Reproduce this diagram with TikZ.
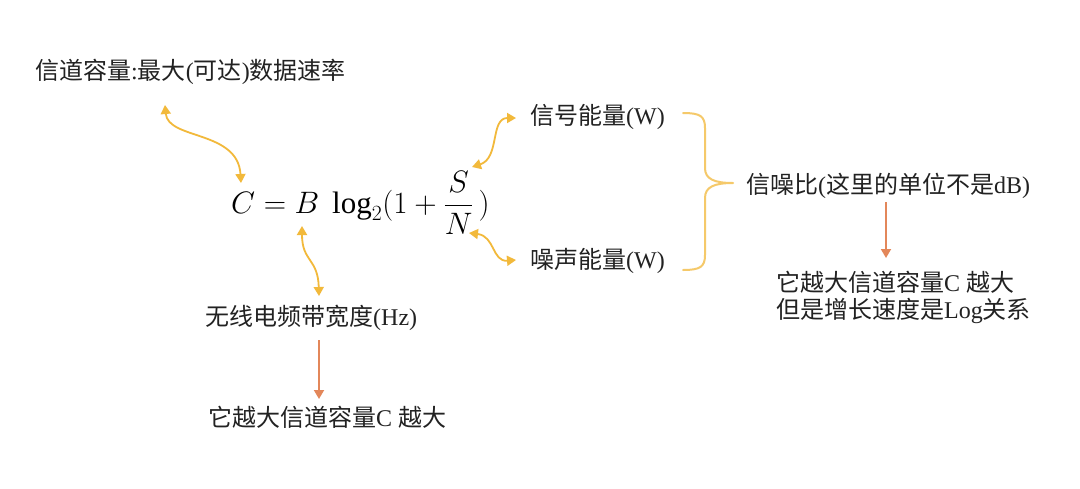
\documentclass[tikz,border=0pt]{standalone}
\usepackage{fix-cm}
\usepackage{fontspec}
\setmainfont{Liberation Serif}
\newfontfamily\cjk{Noto Sans CJK SC}
\usetikzlibrary{arrows.meta}
\definecolor{gold}{HTML}{F2B93B}
\definecolor{bracegold}{HTML}{F5C96A}
\definecolor{orangearr}{HTML}{E3875A}
\definecolor{txt}{HTML}{222222}
\tikzset{
  lbl/.style={anchor=west,inner sep=0pt,text=txt,font=\fontsize{24}{27}\selectfont},
  dbl/.style={draw=gold,line width=1.8pt,{Triangle[width=10pt,length=9pt]}-{Triangle[width=10pt,length=9pt]}},
  down/.style={draw=orangearr,line width=1.8pt,-{Triangle[width=10pt,length=9pt]}},
  brc/.style={draw=bracegold,line width=2pt,line cap=round,line join=round}
}
\begin{document}
\begin{tikzpicture}[x=1pt,y=-1pt]
\useasboundingbox[fill=white] (0,0) rectangle (1080,488);
% texts
\node[lbl] (cap) at (35,72) {{\cjk 信道容量}:{\cjk 最大}({\cjk 可达}){\cjk 数据速率}};
\node[anchor=base west,inner sep=0pt,text=black,font=\fontsize{31}{36}\selectfont] (form) at (231,213)
  {$\displaystyle C = B\ \log_2(1+\frac{S}{N}\,)$};
\node[lbl] (sig) at (530,117) {{\cjk 信号能量}(W)};
\node[lbl] (noi) at (530,261) {{\cjk 噪声能量}(W)};
\node[lbl] (snr) at (746,186) {{\cjk 信噪比}({\cjk 这里的单位不是}dB)};
\node[lbl,align=left] (snrres) at (776,297) {{\cjk 它越大信道容量}C {\cjk 越大}\\{\cjk 但是增长速度是}Log{\cjk 关系}};
\node[lbl] (bw) at (205,318) {{\cjk 无线电频带宽度}(Hz)};
\node[lbl] (bwres) at (208,417) {{\cjk 它越大信道容量}C {\cjk 越大}};
% connector endpoints
\coordinate (a1s) at (165,105); \coordinate (a1e) at (241,183);
\coordinate (a2s) at (472,167); \coordinate (a2e) at (516,118);
\coordinate (a3s) at (469,233); \coordinate (a3e) at (516,260);
\coordinate (a4s) at (302,226); \coordinate (a4e) at (319,296);
\coordinate (o1s) at (319,340); \coordinate (o1e) at (319,399);
\coordinate (o2s) at (886,202); \coordinate (o2e) at (886,258);
% yellow double arrows
\draw[dbl] (a1s) .. controls (168,140) and (238,130) .. (a1e);
\draw[dbl] (a2s) .. controls (500,158) and (490,118) .. (a2e);
\draw[dbl] (a3s) .. controls (495,236) and (492,262) .. (a3e);
\draw[dbl] (a4s) .. controls (302,262) and (318,258) .. (a4e);
% orange arrows
\draw[down] (o1s) -- (o1e);
\draw[down] (o2s) -- (o2e);
% brace
\coordinate (bt) at (683,113); \coordinate (bm) at (733,183); \coordinate (bb) at (683,270);
\draw[brc] (bt) .. controls (700,113) and (705,116) .. (705,128) -- (705,168)
  .. controls (705,179) and (714,183) .. (bm)
  .. controls (714,183) and (705,187) .. (705,198) -- (705,255)
  .. controls (705,267) and (700,270) .. (bb);
\end{tikzpicture}
\end{document}
